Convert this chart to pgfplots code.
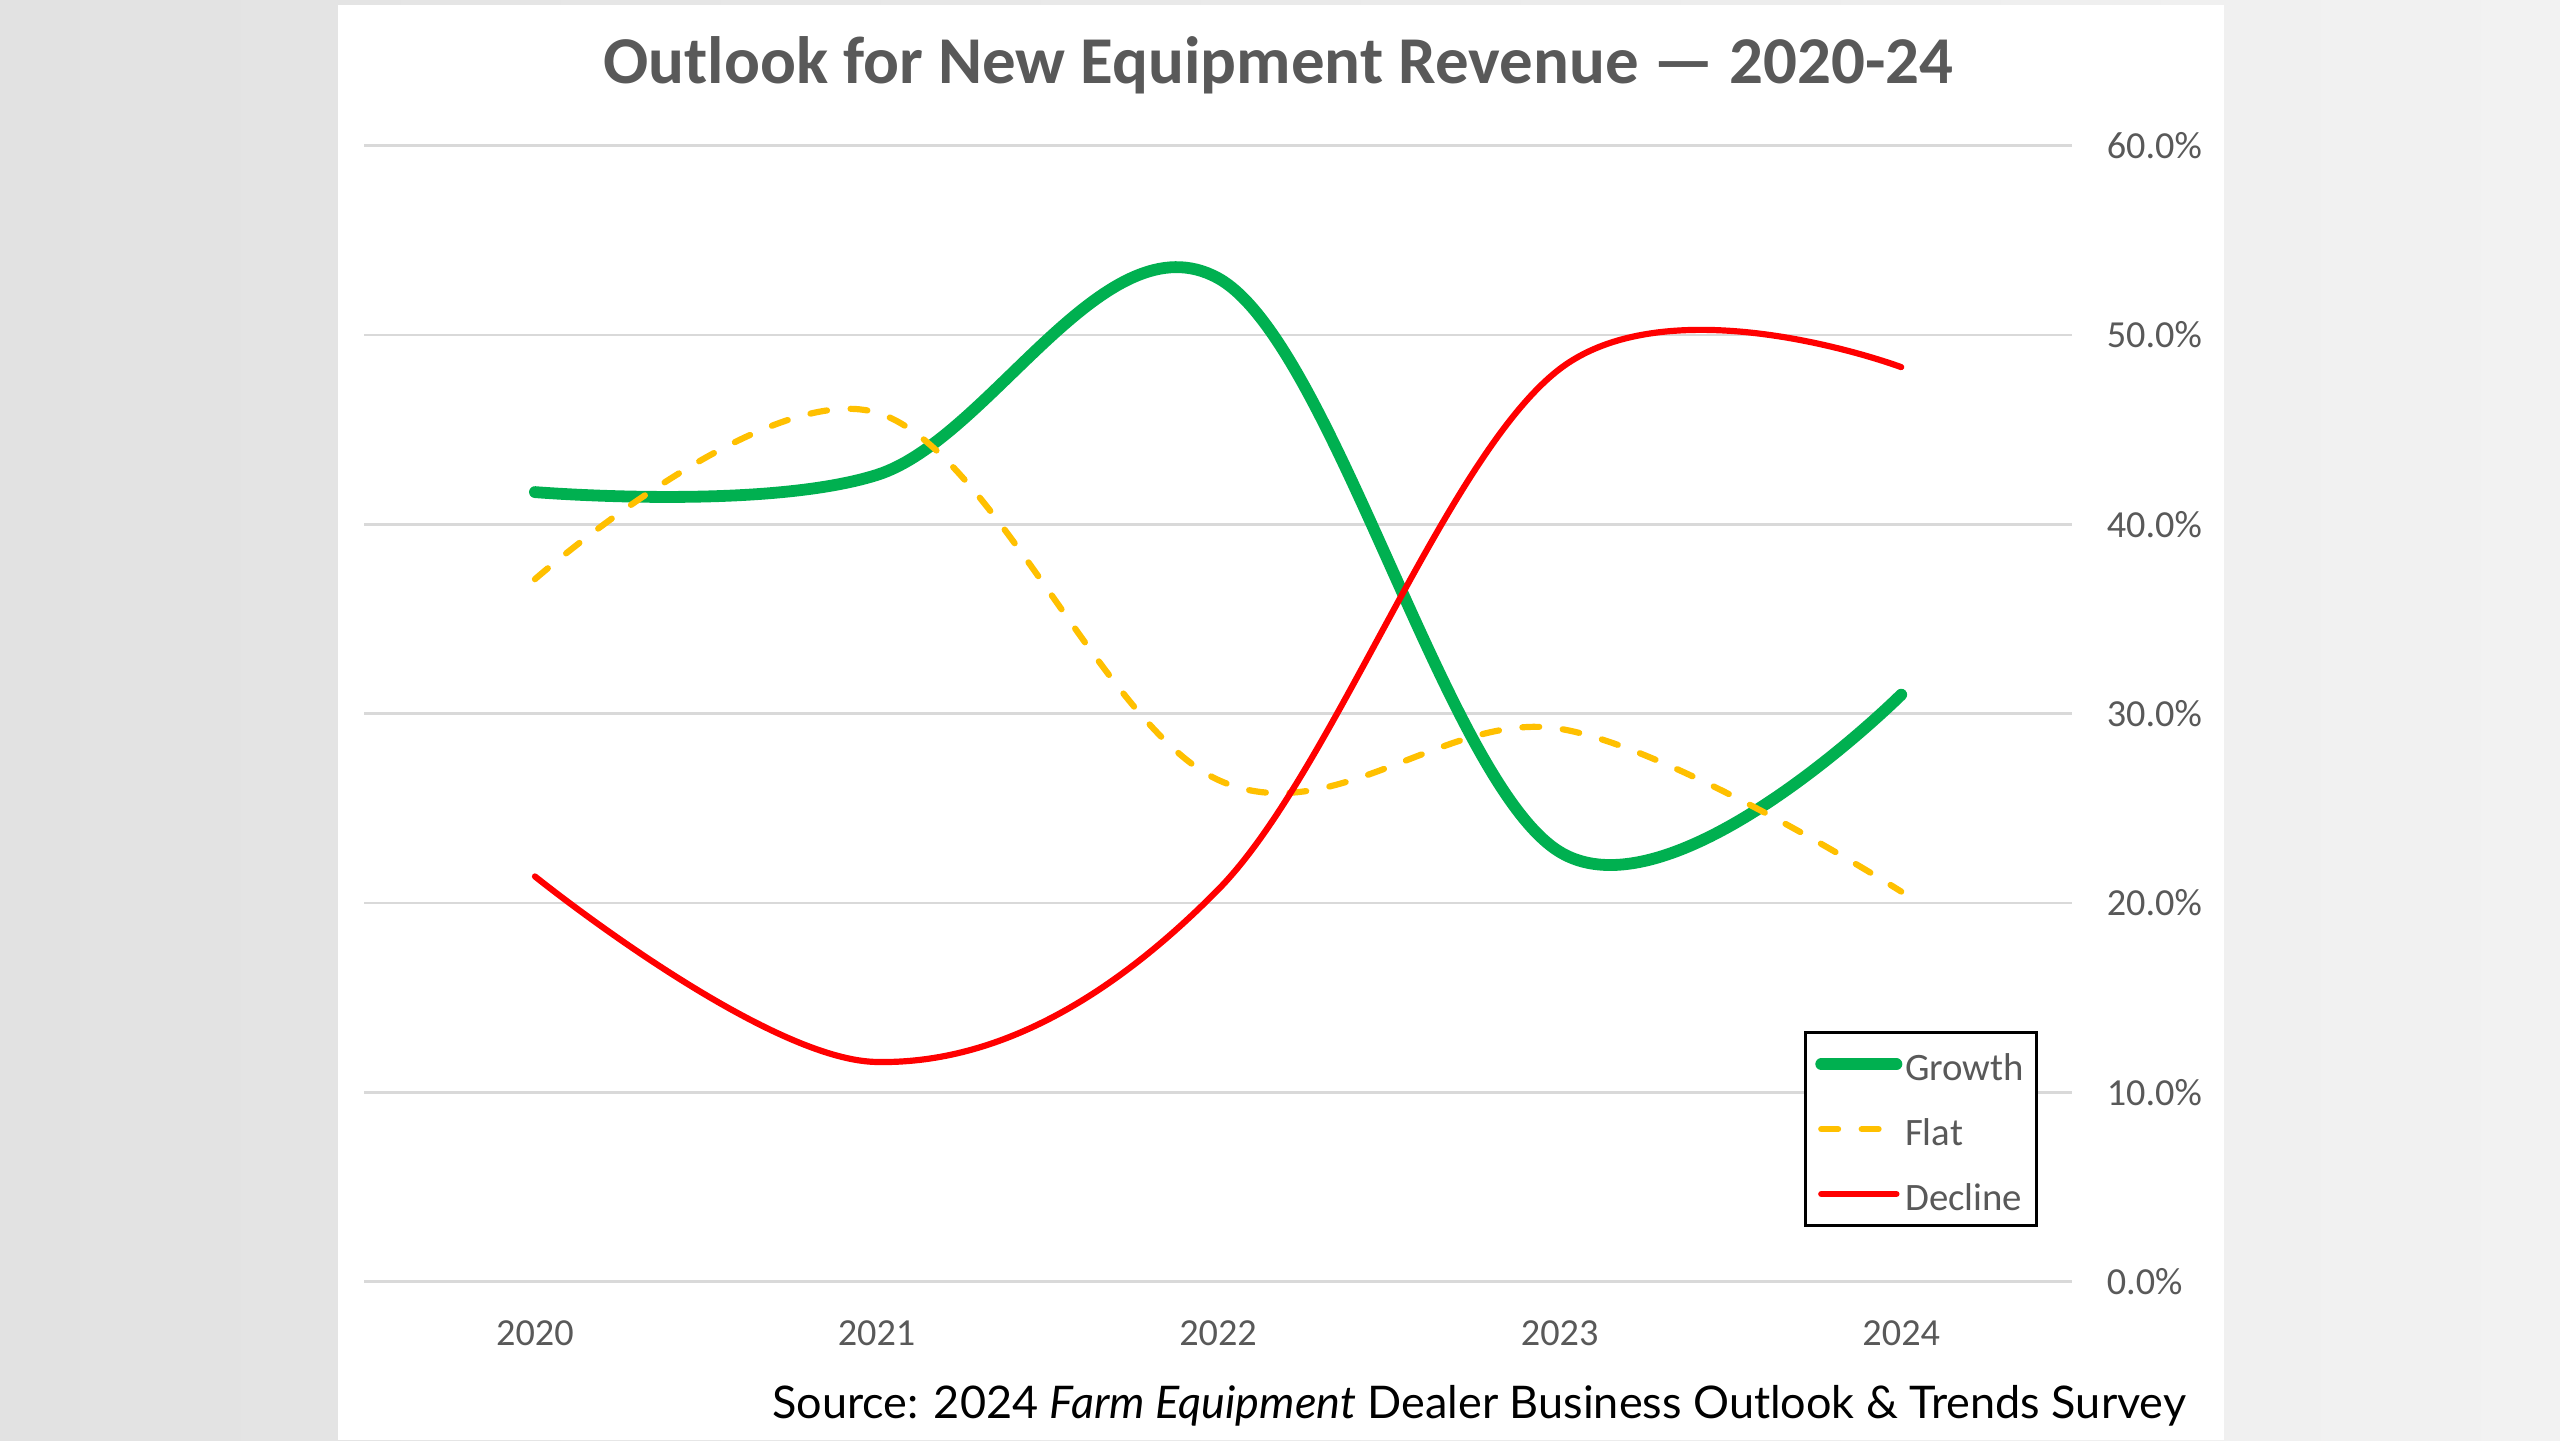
\documentclass[border=0pt]{standalone}
\usepackage{pgfplots}
\pgfplotsset{compat=1.18}
\usepackage{fontspec}
\setmainfont{Carlito}
\newfontfamily\srcfont{Lato}
\definecolor{txtgray}{HTML}{595959}
\definecolor{gridgray}{HTML}{D9D9D9}
\definecolor{cgreen}{HTML}{00B050}
\definecolor{cyellow}{HTML}{FFC000}
\definecolor{cred}{HTML}{FF0000}
\definecolor{bgA}{HTML}{E2E2E2}
\definecolor{bgB}{HTML}{F2F2F2}

\pgfplotstableread{
x growth flat decline
0 41.7 37.1 21.4
1 42.6 45.9 11.6
2 53.0 26.5 20.7
3 22.7 29.2 48.2
4 31.0 20.6 48.3
}\datatable

\begin{document}
\begin{tikzpicture}
\useasboundingbox (0,0) rectangle (16,9);
\shade[left color=bgA, right color=bgB] (0,0) rectangle (16,9);
\fill[white] (2.112,0) rectangle (13.90,8.97);
\node[text=txtgray, font=\fontsize{11.9}{14}\selectfont\bfseries] at (7.99,8.59) {Outlook for New Equipment Revenue — 2020-24};
\node[anchor=mid east, inner sep=0pt, font=\srcfont\fontsize{8.0}{10}\selectfont] at (13.67,0.22) {Source: 2024 \textit{Farm Equipment} Dealer Business Outlook \& Trends Survey};
\begin{axis}[
  at={(2.276cm,0.99cm)}, anchor=south west,
  width=10.674cm, height=7.10cm, scale only axis,
  xmin=-0.5, xmax=4.5, ymin=0, ymax=60,
  axis line style={draw=none},
  major tick length=0pt,
  xtick={0,1,2,3,4}, xticklabels={2020,2021,2022,2023,2024},
  ytick={0,10,20,30,40,50,60},
  yticklabels={0.0\%,10.0\%,20.0\%,30.0\%,40.0\%,50.0\%,60.0\%},
  yticklabel pos=right,
  ymajorgrids, grid style={gridgray, line width=0.5pt},
  tick label style={text=txtgray, font=\fontsize{6.8}{8}\selectfont},
  yticklabel style={anchor=west, inner sep=0pt, xshift=0.21cm},
  xticklabel style={anchor=center, inner sep=0pt, yshift=-0.32cm},
  clip=false,
  legend cell align=left,
  legend image code/.code={\draw[#1] (0cm,0cm) -- (0.47cm,0cm);},
  legend style={at={(0.98,0.048)}, anchor=south east, draw=black, line width=0.5pt,
    font=\fontsize{6.9}{8}\selectfont, text=txtgray, inner xsep=0.06cm, inner ysep=0.03cm,
    row sep=0.07cm,
    nodes={inner xsep=0.5pt, inner ysep=0pt, text height=1.6ex, text depth=0.4ex}},
]
\addplot[cgreen, line width=2.1pt, smooth, tension=0.6, line cap=round] table[x=x, y=growth] {\datatable};
\addlegendentry{Growth}
\addplot[cyellow, line width=1.1pt, smooth, tension=0.6, line cap=round, dash pattern=on 3pt off 4.2pt] table[x=x, y=flat] {\datatable};
\addlegendentry{Flat}
\addplot[cred, line width=1.1pt, smooth, tension=0.6, line cap=round] table[x=x, y=decline] {\datatable};
\addlegendentry{Decline}
\end{axis}
\end{tikzpicture}
\end{document}
